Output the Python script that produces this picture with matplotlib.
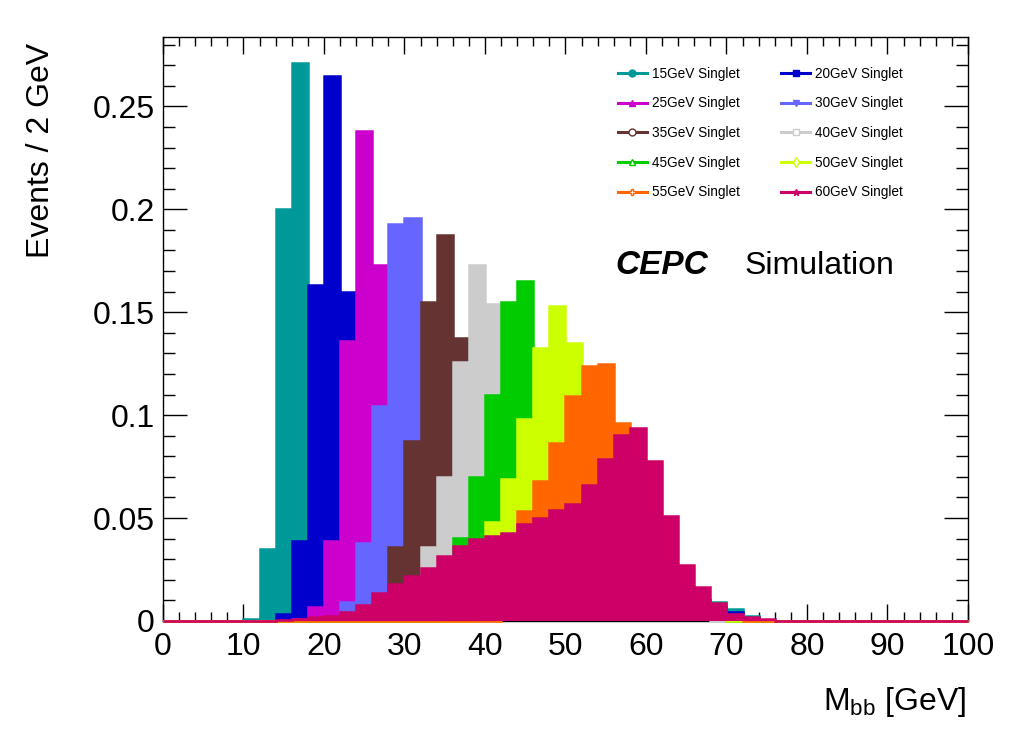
import numpy as np
import matplotlib
matplotlib.use("Agg")
import matplotlib.pyplot as plt
from matplotlib.lines import Line2D
from matplotlib.ticker import MultipleLocator, FuncFormatter

plt.rcParams['font.family'] = ['Liberation Sans', 'DejaVu Sans']
plt.rcParams['mathtext.fontset'] = 'custom'
plt.rcParams['mathtext.rm'] = 'Liberation Sans'
plt.rcParams['mathtext.it'] = 'Liberation Sans:italic'

# 2 GeV bins from 0 to 100, each list starts at the bin given in *_start
edges = np.arange(0, 102, 2)

h15_start = 5
h15 = [0.001, 0.035, 0.200, 0.271, 0.120, 0.070, 0.045, 0.030, 0.022,
       0.010, 0.010, 0.010, 0.010, 0.010, 0.010, 0.010, 0.010, 0.010, 0.010,
       0.010, 0.010, 0.010, 0.010, 0.010, 0.010, 0.010, 0.010, 0.010, 0.010,
       0.0092, 0.0058, 0.0024, 0.0005]
h20_start = 7
h20 = [0.0036, 0.039, 0.163, 0.2646, 0.160, 0.075, 0.035, 0.022,
       0.010, 0.010, 0.010, 0.010, 0.010, 0.010, 0.010, 0.010, 0.010, 0.010,
       0.010, 0.010, 0.010, 0.010, 0.010, 0.010, 0.010, 0.010, 0.010,
       0.007, 0.0042, 0.0015]
h25_start = 8
h25 = [0.001, 0.0066, 0.039, 0.136, 0.238, 0.173, 0.085, 0.045, 0.030, 0.020,
       0.010, 0.010, 0.010, 0.010, 0.010, 0.010, 0.010, 0.010, 0.010, 0.010,
       0.010, 0.010, 0.010, 0.010, 0.010, 0.010, 0.006, 0.003]
h30_start = 10
h30 = [0.001, 0.0092, 0.038, 0.1046, 0.193, 0.196, 0.110, 0.060, 0.035, 0.022,
       0.010, 0.010, 0.010, 0.010, 0.010, 0.010, 0.010, 0.010, 0.010, 0.010,
       0.010, 0.010, 0.010, 0.010, 0.005, 0.003]
h35_start = 12
h35 = [0.001, 0.008, 0.0358, 0.0875, 0.155, 0.1877, 0.1376, 0.090, 0.050,
       0.030, 0.020, 0.010, 0.010, 0.010, 0.010, 0.010, 0.010, 0.010, 0.010,
       0.010, 0.010, 0.010, 0.005]
h40_start = 14
h40 = [0.005, 0.010, 0.0358, 0.070, 0.126, 0.173, 0.154, 0.100, 0.055, 0.030,
       0.020, 0.010, 0.010, 0.010, 0.010, 0.010, 0.010, 0.010, 0.010, 0.004]
h45_start = 17
h45 = [0.012, 0.0405, 0.070, 0.110, 0.155, 0.165, 0.100, 0.060, 0.035, 0.020,
       0.010, 0.010, 0.010, 0.010, 0.010, 0.010, 0.010, 0.003]
h50_start = 19
h50 = [0.020, 0.048, 0.069, 0.098, 0.1325, 0.153, 0.135, 0.100, 0.060, 0.030,
       0.015, 0.010, 0.008, 0.006, 0.004, 0.002]
h55_start = 21
h55 = [0.030, 0.0535, 0.068, 0.0866, 0.1094, 0.124, 0.125, 0.0963, 0.060,
       0.030, 0.015, 0.008, 0.005, 0.003, 0.002]
h60_start = 7
h60 = [0.0004, 0.001, 0.002, 0.0026, 0.0043, 0.0077, 0.0135, 0.018, 0.022,
       0.0257, 0.0315, 0.0364, 0.040, 0.0415, 0.0426, 0.047, 0.050, 0.054,
       0.057, 0.066, 0.0788, 0.0905, 0.0937, 0.0778, 0.051, 0.0272, 0.0164,
       0.0086, 0.0035, 0.002, 0.001]

labels = ['15GeV Singlet', '20GeV Singlet', '25GeV Singlet', '30GeV Singlet',
          '35GeV Singlet', '40GeV Singlet', '45GeV Singlet', '50GeV Singlet',
          '55GeV Singlet', '60GeV Singlet']
colors = ['#009999', '#0000cc', '#cc00cc', '#6666ff', '#663333',
          '#cccccc', '#00cc00', '#ccff00', '#ff6600', '#cc0066']
markers = ['o', 's', '^', 'v', 'o', 's', '^', 'd', 'P', '*']
filled = [True, True, True, True, False, False, False, False, False, True]

series = [(h15_start, h15), (h20_start, h20), (h25_start, h25),
          (h30_start, h30), (h35_start, h35), (h40_start, h40),
          (h45_start, h45), (h50_start, h50), (h55_start, h55),
          (h60_start, h60)]


def full_hist(start, vals):
    out = np.zeros(len(edges) - 1)
    out[start:start + len(vals)] = vals
    return out


fig = plt.figure(figsize=(10.2, 7.4), dpi=100)
ax = fig.add_axes([163 / 1020, 119 / 740, 805 / 1020, 584 / 740])

handles = []
for i, (start, vals) in enumerate(series):
    h = full_hist(start, vals)
    c = colors[i]
    z = 3 + 0.1 * i
    ax.stairs(h, edges, fill=True, color=c, lw=0, zorder=z)
    ax.stairs(h, edges, color=c, lw=1.8, zorder=z + 0.05, clip_on=False)
    handles.append(Line2D([], [], color=c, lw=2.2, marker=markers[i], ms=5,
                          markerfacecolor=c if filled[i] else 'white',
                          markeredgecolor=c, markeredgewidth=1.0))

ax.set_xlim(0, 100)
ax.set_ylim(0, 0.2837)

ax.xaxis.set_major_locator(MultipleLocator(10))
ax.xaxis.set_minor_locator(MultipleLocator(2))
ax.yaxis.set_major_locator(MultipleLocator(0.05))
ax.yaxis.set_minor_locator(MultipleLocator(0.01))
ax.yaxis.set_major_formatter(FuncFormatter(lambda v, p: '%g' % round(v, 3)))

ax.tick_params(which='both', direction='in', top=True, right=True, width=1)
ax.tick_params(axis='x', which='major', length=12.2, pad=8, labelsize=23)
ax.tick_params(axis='x', which='minor', length=6.3)
ax.tick_params(axis='y', which='major', length=17.3, pad=6, labelsize=23)
ax.tick_params(axis='y', which='minor', length=8.6)
for s in ax.spines.values():
    s.set_linewidth(1)

# legend: two columns, ROOT fills row by row
order = [0, 2, 4, 6, 8, 1, 3, 5, 7, 9]
ax.legend([handles[k] for k in order], [labels[k] for k in order], ncol=2,
          loc='upper left', bbox_to_anchor=(0.5652, 0.949), frameon=False,
          fontsize=9.8, handlelength=2.13, handletextpad=0.37,
          columnspacing=3.05, labelspacing=1.15, borderpad=0, borderaxespad=0)

fig.text(615 / 1020, 1 - 274 / 740, 'CEPC', fontsize=24, fontweight='bold',
         fontstyle='italic', va='baseline', ha='left')
fig.text(745 / 1020, 1 - 274 / 740, 'Simulation', fontsize=23,
         va='baseline', ha='left')

fig.text(41 / 1020, 1 - 43 / 740, 'Events / 2 GeV', fontsize=23,
         rotation=90, ha='center', va='top')
fig.text(966 / 1020, 1 - 710 / 740, r'M$_{\mathrm{bb}}$ [GeV]', fontsize=23,
         ha='right', va='baseline')

fig.savefig('out.png', dpi=100)
